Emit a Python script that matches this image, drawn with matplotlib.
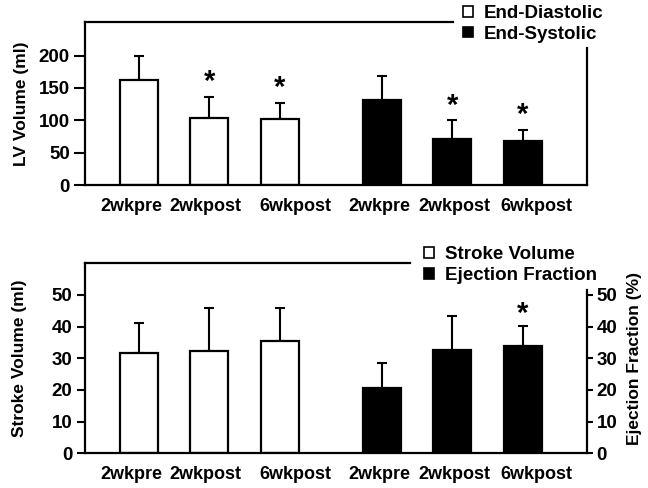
import matplotlib
matplotlib.use("Agg")
import matplotlib.pyplot as plt
from matplotlib.patches import Patch

plt.rcParams['font.family'] = ['Liberation Sans', 'DejaVu Sans']
plt.rcParams['font.weight'] = 'bold'

# ---- data ----
timepoints = ["2wkpre", "2wkpost", "6wkpost"]
tick_labels = timepoints + timepoints

edv = [162, 104, 102]
edv_err = [38, 32, 25]
esv = [131, 71, 68]
esv_err = [38, 29, 17]
lv_star = [False, True, True, False, True, True]

sv = [31.6, 32.3, 35.5]
sv_err = [9.5, 13.6, 10.4]
ef = [20.5, 32.6, 33.8]
ef_err = [8.1, 10.7, 6.4]
ef_star = [False, False, True]

positions = [0, 1, 2, 3.45, 4.45, 5.45]
# label placement nudges (layout only), as in the original typesetting
label_shift = [-0.1, -0.06, 0.23, -0.03, 0.03, 0.19]
xlim = (-0.76, 6.36)
bw = 0.54

fig = plt.figure(figsize=(6.48, 4.88), dpi=100)

fs_tick = 13.5
fs_xtick = 13
fs_lab = 12.5

def style_left(ax, top_end, right_top, ylim, ticks, ticklen):
    ax.set_xlim(*xlim)
    ax.set_ylim(*ylim)
    ax.set_yticks(ticks)
    ax.set_xticks([p + s for p, s in zip(positions, label_shift)])
    ax.set_xticklabels(tick_labels, fontsize=fs_xtick, fontweight='bold')
    ax.tick_params(axis='x', length=0, pad=9)
    ax.tick_params(axis='y', length=ticklen, width=1.5, labelsize=fs_tick, pad=3)
    for s in ax.spines.values():
        s.set_linewidth(1.6)
    ax.spines['top'].set_bounds(xlim[0], top_end)
    ax.spines['right'].set_bounds(ylim[0], right_top)
    for lbl in ax.get_yticklabels():
        lbl.set_fontweight('bold')

# ---- top panel ----
ax1 = fig.add_axes([0.1312, 0.6209, 0.7747, 0.3340])
p1 = positions[:3]
p2 = positions[3:]
ax1.bar(p1, edv, width=bw, color='white', edgecolor='black', linewidth=1.6, zorder=2)
ax1.errorbar(p1, edv, yerr=[[0]*3, edv_err], fmt='none', ecolor='black', elinewidth=1.5, capsize=3.5, capthick=1.5, zorder=1)
ax1.bar(p2, esv, width=bw, color='black', edgecolor='black', linewidth=1.6, zorder=2)
ax1.errorbar(p2, esv, yerr=[[0]*3, esv_err], fmt='none', ecolor='black', elinewidth=1.5, capsize=3.5, capthick=1.5, zorder=1)
tops = [v + e for v, e in zip(edv + esv, edv_err + esv_err)]
for x, t, s in zip(positions, tops, lv_star):
    if s:
        ax1.annotate('*', (x, t), xytext=(0, 0.5), textcoords='offset points',
                     ha='center', va='bottom', fontsize=21, fontweight='bold')
style_left(ax1, 4.46, 212, (0, 252), [0, 50, 100, 150, 200], 8)
ax1.set_ylabel('LV Volume (ml)', fontsize=fs_lab, fontweight='bold', labelpad=7)
ax1.legend([Patch(facecolor='white', edgecolor='black', linewidth=1.2),
            Patch(facecolor='black', edgecolor='black', linewidth=1.2)],
           ['End-Diastolic', 'End-Systolic'],
           loc='upper left', bbox_to_anchor=(0.715, 0.99), bbox_transform=fig.transFigure,
           frameon=False, fontsize=fs_tick, handlelength=0.5, handleheight=0.5,
           handletextpad=0.6, labelspacing=0.2, borderaxespad=0, borderpad=0)

# ---- bottom panel ----
ax2 = fig.add_axes([0.1312, 0.0711, 0.7747, 0.3893])
ax2.bar(p1, sv, width=bw, color='white', edgecolor='black', linewidth=1.6, zorder=2)
ax2.errorbar(p1, sv, yerr=[[0]*3, sv_err], fmt='none', ecolor='black', elinewidth=1.5, capsize=3.5, capthick=1.5, zorder=1)
style_left(ax2, 3.85, 51.5, (0, 60), [0, 10, 20, 30, 40, 50], 6)
ax2.spines['right'].set_visible(False)
ax2.set_ylabel('Stroke Volume (ml)', fontsize=fs_lab, fontweight='bold', labelpad=18)

ax3 = ax2.twinx()
ax3.set_position(ax2.get_position())
ax3.bar(p2, ef, width=bw, color='black', edgecolor='black', linewidth=1.6, zorder=2)
ax3.errorbar(p2, ef, yerr=[[0]*3, ef_err], fmt='none', ecolor='black', elinewidth=1.5, capsize=3.5, capthick=1.5, zorder=1)
ef_tops = [v + e for v, e in zip(ef, ef_err)]
for x, t, s in zip(p2, ef_tops, ef_star):
    if s:
        ax3.annotate('*', (x, t), xytext=(0, -1.5), textcoords='offset points',
                     ha='center', va='bottom', fontsize=21, fontweight='bold')
ax3.set_ylim(0, 60)
ax3.set_xlim(*xlim)
ax3.set_yticks([0, 10, 20, 30, 40, 50])
ax3.tick_params(axis='y', length=4, width=1.5, labelsize=fs_tick, pad=3)
for lbl in ax3.get_yticklabels():
    lbl.set_fontweight('bold')
for k in ['left', 'top', 'bottom']:
    ax3.spines[k].set_visible(False)
ax3.spines['right'].set_linewidth(1.6)
ax3.spines['right'].set_bounds(0, 51.5)
ax3.set_ylabel('Ejection Fraction (%)', fontsize=fs_lab, fontweight='bold', labelpad=7)
ax2.legend([Patch(facecolor='white', edgecolor='black', linewidth=1.2),
            Patch(facecolor='black', edgecolor='black', linewidth=1.2)],
           ['Stroke Volume', 'Ejection Fraction'],
           loc='upper left', bbox_to_anchor=(0.655, 0.495), bbox_transform=fig.transFigure,
           frameon=False, fontsize=fs_tick, handlelength=0.5, handleheight=0.5,
           handletextpad=0.6, labelspacing=0.2, borderaxespad=0, borderpad=0)

fig.savefig('out.png', dpi=100, facecolor='white')
